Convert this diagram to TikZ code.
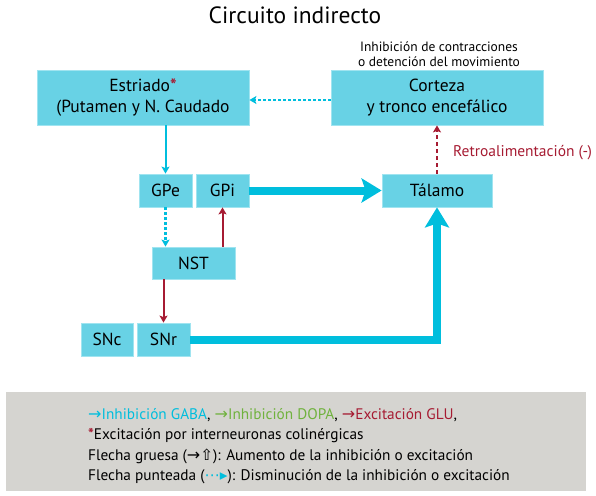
\documentclass[tikz,border=0pt]{standalone}
\usepackage{fontspec}
\setmainfont{PT Sans}
\newfontfamily\symfont{DejaVu Sans}
\usepackage{xcolor}
\usetikzlibrary{arrows.meta, positioning}
\definecolor{gaba}{RGB}{0,190,221}
\definecolor{boxcyan}{RGB}{104,210,229}
\definecolor{boxedge}{RGB}{160,228,240}
\definecolor{glu}{RGB}{166,27,50}
\definecolor{dopa}{RGB}{112,178,62}
\definecolor{leggray}{RGB}{213,212,208}
\newcommand{\legarrow}{{\symfont\fontsize{16}{20.5}\selectfont →}}

\begin{document}
\begin{tikzpicture}[x=1pt, y=-1pt,
      nbox/.style={draw=boxedge, line width=0.8pt, fill=boxcyan, inner sep=0pt,
                   minimum width=#1, minimum height=33pt, align=center,
                   font=\fontsize{17.5}{21}\selectfont},
      arr/.style={-{Stealth[length=7pt,width=8pt,inset=1.5pt]}, line width=2pt},
      dotarr/.style={arr, gaba, line width=2.5pt, dash pattern=on 2.5pt off 2.5pt},
      bigarr/.style={-{Stealth[length=20pt,width=24pt,inset=4pt]}, gaba, line width=8pt}
  ]
    \useasboundingbox (0,0) rectangle (596,495);

    \node[font=\fontsize{23.5}{28}\selectfont] (title) at (295,15) {Circuito indirecto};

    \node[nbox=212pt, minimum height=55pt] (estriado) at (143,97.5)
      {Estriado\textcolor{glu}{\textbf{*}}\\(Putamen y N. Caudado};
    \node[nbox=212pt, minimum height=55pt] (corteza) at (437,97.5)
      {Corteza\\y tronco encefálico};
    \node[align=center, font=\fontsize{13.5}{15}\selectfont] (nota) at (439,54.5)
      {Inhibición de contracciones\\o detención del movimiento};

    \node[nbox=53pt] (gpe) at (165.5,190.5) {GPe};
    \node[nbox=53pt] (gpi) at (222.5,190.5) {GPi};
    \node[nbox=110pt] (talamo) at (437,190.5) {Tálamo};
    \node[nbox=83pt, minimum height=32pt] (nst) at (193.5,263) {NST};
    \node[nbox=52pt] (snc) at (107,339.5) {SNc};
    \node[nbox=53pt] (snr) at (163.5,339.5) {SNr};

    \node[anchor=west, text=glu, inner sep=0pt, font=\fontsize{15.5}{18}\selectfont]
      (retro) at (453,153) {Retroalimentación (-)};

    % connections
    \draw[dotarr] (corteza.west |- 0,100) -- (estriado.east |- 0,100);
    \draw[arr, gaba] (gpe.north |- estriado.south) -- (gpe.north);
    \draw[dotarr] (gpe.south) -- (gpe.south |- nst.north);
    \draw[arr, glu] (gpi.south |- nst.north) -- (gpi.south);
    \draw[arr, glu] (snr.north |- nst.south) -- (snr.north);
    \draw[bigarr] (gpi.east) -- (talamo.west);
    \draw[bigarr] (snr.east) -- (talamo.south |- snr.east) -- (talamo.south);
    \draw[arr, glu, line width=2.5pt, dash pattern=on 4pt off 3pt] (talamo.north) -- (corteza.south);

    % legend
    \node[fill=leggray, inner sep=0pt, minimum width=580pt, minimum height=99pt]
      (legbox) at (296,441.5) {};
    \node[anchor=north west, inner sep=0pt, align=left,
          font=\fontsize{15.3}{20.5}\selectfont] (legtext) at (88,408)
      {\textcolor{gaba}{\legarrow Inhibición GABA}, \textcolor{dopa}{\legarrow Inhibición DOPA}, \textcolor{glu}{\legarrow Excitación GLU},\\
       \textcolor{glu}{\textbf{*}}Excitación por interneuronas colinérgicas\\
       Flecha gruesa (\legarrow{\symfont ⇧}): Aumento de la inhibición o excitación\\
       Flecha punteada (\textcolor{gaba}{\symfont ⋯▸}): Disminución de la inhibición o excitación};
  \end{tikzpicture}
\end{document}
